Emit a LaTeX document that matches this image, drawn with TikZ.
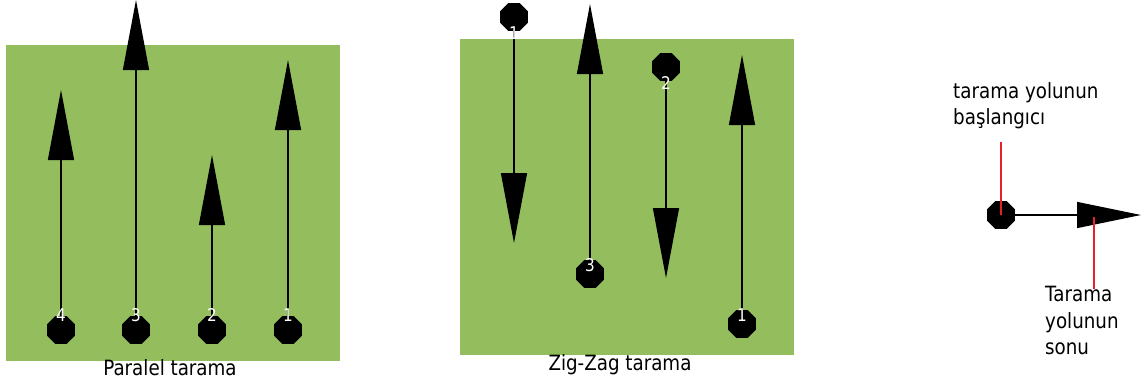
\documentclass[tikz,border=0pt]{standalone}
\usepackage{fontspec}
\setmainfont{DejaVu Sans}
\newfontfamily\narrowsans[FakeStretch=0.87]{DejaVu Sans}
\usetikzlibrary{arrows.meta,shapes.geometric}
\definecolor{fieldgreen}{HTML}{94BD5E}
\definecolor{pinred}{HTML}{E8202A}
\tikzset{
  fieldarea/.style={fill=fieldgreen,draw=none},
  scandot/.style={regular polygon,regular polygon sides=8,fill=black,draw=none,minimum size=30pt,inner sep=0pt},
  scanline/.style={line width=1.3pt,draw=black,-{Triangle[length=70pt,width=26pt]}},
  numlabel/.style={text=white,inner sep=0pt,font=\narrowsans\fontsize{17.5}{20}\selectfont},
  captext/.style={inner sep=0pt,font=\narrowsans\fontsize{21}{26.5}\selectfont,align=left},
  pointer/.style={draw=pinred,line width=1.1pt}
}
\begin{document}
\begin{tikzpicture}[x=1pt,y=-1pt]
\useasboundingbox (0,0) rectangle (1141,383);
% fields
\path[fieldarea] (6,45) rectangle (340,361);
\path[fieldarea] (460,39) rectangle (794,355);
% parallel scan
\node[scandot] (p4) at (61,330) {};
\node[scandot] (p3) at (136,330) {};
\node[scandot] (p2) at (212,330) {};
\node[scandot] (p1) at (288,330) {};
\coordinate (pt4) at (61,90);
\coordinate (pt3) at (136,0);
\coordinate (pt2) at (212,155);
\coordinate (pt1) at (288,60);
\draw[scanline] (p4) -- (pt4);
\draw[scanline] (p3) -- (pt3);
\draw[scanline] (p2) -- (pt2);
\draw[scanline] (p1) -- (pt1);
\node[numlabel] (pl4) at (61,315) {4};
\node[numlabel] (pl3) at (136,315) {3};
\node[numlabel] (pl2) at (212,315) {2};
\node[numlabel] (pl1) at (288,315) {1};
\node[captext,anchor=base] (pcap) at (170,375) {Paralel tarama};
% zig-zag scan
\node[scandot] (z1) at (514,17) {};
\node[scandot] (z2) at (666,67) {};
\node[scandot] (z3) at (590,274) {};
\node[scandot] (z4) at (742,324) {};
\coordinate (zt1) at (514,243);
\coordinate (zt2) at (666,278);
\coordinate (zt3) at (590,4);
\coordinate (zt4) at (742,55);
\draw[scanline] (z1) -- (zt1);
\draw[scanline] (z2) -- (zt2);
\draw[scanline] (z3) -- (zt3);
\draw[scanline] (z4) -- (zt4);
\node[numlabel] (zl1) at (514,33) {1};
\node[numlabel] (zl2) at (666,83) {2};
\node[numlabel] (zl3) at (590,265) {3};
\node[numlabel] (zl4) at (742,315) {1};
\node[captext,anchor=base] (zcap) at (620,370) {Zig-Zag tarama};
% legend
\node[scandot] (ls) at (1001,215) {};
\coordinate (lt) at (1141,215);
\draw[line width=1.3pt,-{Triangle[length=64pt,width=26pt]}] (ls) -- (lt);
\coordinate (rs) at (1001,142);
\coordinate (re1) at (1094,217);
\coordinate (re2) at (1094,289);
\draw[pointer] (rs) -- (ls.center);
\draw[pointer] (re1) -- (re2);
\node[captext,anchor=north west] (lstart) at (953,82) {tarama yolunun\\başlangıcı};
\node[captext,anchor=north west] (lend) at (1045,286) {Tarama\\yolunun\\sonu};
\end{tikzpicture}
\end{document}
